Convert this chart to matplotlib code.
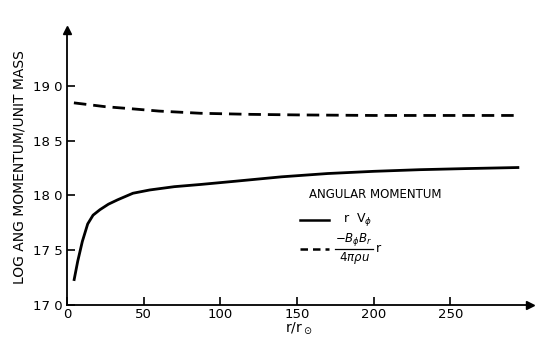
import matplotlib.pyplot as plt
import numpy as np

# values
r_solid = [4.5, 7, 10, 13.5, 17, 21.5, 27, 33, 43, 54, 70, 87, 110, 140, 170, 200, 230, 260, 295]
l_solid = [17.22, 17.40, 17.58, 17.74, 17.82, 17.87, 17.92, 17.96, 18.02, 18.05, 18.08, 18.10, 18.13, 18.17, 18.20, 18.22, 18.235, 18.245, 18.255]

r_dash = [4.5, 25, 43, 60, 87, 120, 150, 200, 250, 295]
l_dash = [18.845, 18.81, 18.79, 18.77, 18.75, 18.74, 18.735, 18.73, 18.73, 18.73]

xticks = [0, 50, 100, 150, 200, 250]
yticks = [17.0, 17.5, 18.0, 18.5, 19.0]
ytick_labels = ["17 0", "17 5", "18 0", "18 5", "19 0"]

fig = plt.figure(figsize=(5.39, 3.40), dpi=100)
ax = fig.add_axes([67 / 539, 35 / 340, 463 / 539, 275 / 340])

ax.plot(r_solid, l_solid, color="black", lw=2.0, solid_capstyle="butt")
ax.plot(r_dash, l_dash, color="black", lw=2.0, dashes=(4.5, 2.5))

ax.set_xlim(0, 302)
ax.set_ylim(17.0, 19.51)
ax.spines["top"].set_visible(False)
ax.spines["right"].set_visible(False)
ax.spines["left"].set_linewidth(1.3)
ax.spines["bottom"].set_linewidth(1.3)

# arrow heads on the axes
ax.plot(1, 0, ">", color="black", markersize=6, transform=ax.transAxes, clip_on=False)
ax.plot(0, 1, "^", color="black", markersize=6, transform=ax.transAxes, clip_on=False)

ax.set_xticks(xticks)
ax.set_xticklabels([str(t) for t in xticks])
ax.set_yticks(yticks)
ax.set_yticklabels(ytick_labels)
ax.tick_params(direction="in", length=6, width=1.2, labelsize=9.5, pad=3)
ax.tick_params(axis="x", pad=2)

ax.set_xlabel(r"r/r$_\odot$", fontsize=10, labelpad=0)
ax.set_ylabel("LOG ANG MOMENTUM/UNIT MASS", fontsize=10, labelpad=5)

# legend drawn by hand like the original annotation
ax.text(158, 18.01, "ANGULAR MOMENTUM", fontsize=8.5, va="center")
ax.plot([152, 171], [17.78, 17.78], color="black", lw=1.8)
ax.text(180, 17.78, r"r  V$_\phi$", fontsize=9, va="center")
ax.plot([152, 171], [17.51, 17.51], color="black", lw=1.8, dashes=(3, 2))
ax.text(187.3, 17.595, r"$-B_\phi B_r$", fontsize=8.5, ha="center", va="center")
ax.plot([175, 199.5], [17.512, 17.512], color="black", lw=0.9)
ax.text(187.3, 17.43, r"$4\pi\rho u$", fontsize=8.5, ha="center", va="center")
ax.text(201.5, 17.52, "r", fontsize=9, va="center")

fig.savefig("out.png", dpi=100)
